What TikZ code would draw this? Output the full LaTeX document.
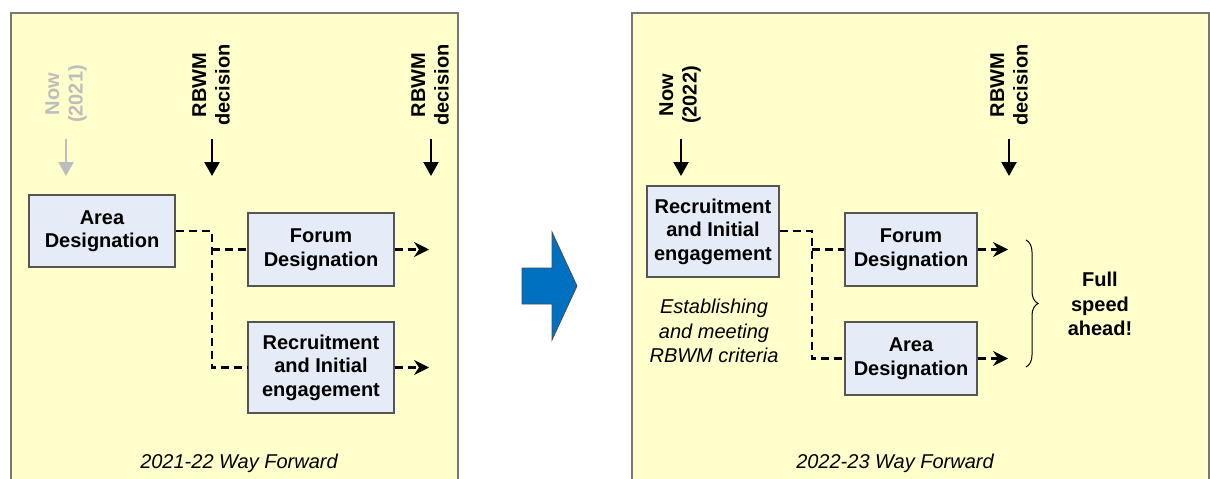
\documentclass[tikz,border=0pt]{standalone}
\usepackage{fontspec}
\setmainfont{Liberation Sans}
\usetikzlibrary{arrows.meta,decorations.pathreplacing}
\definecolor{panelfill}{HTML}{FFFFCC}
\definecolor{boxfill}{HTML}{E6ECF7}
\definecolor{boxedge}{HTML}{555555}
\definecolor{bigblue}{HTML}{0070C0}
\definecolor{nowgray}{HTML}{BDBDBD}
\begin{document}
\begin{tikzpicture}[x=1pt,y=-1pt,
  stagebox/.style={draw=boxedge,line width=1.3pt,fill=boxfill,inner sep=0pt,align=center,
    font=\fontsize{20}{23.5}\selectfont\bfseries},
  vlabel/.style={rotate=90,align=center,font=\fontsize{20}{23.5}\selectfont\bfseries,inner sep=0pt},
  downarrow/.style={line width=2.4pt,-{Triangle[length=14pt,width=15pt]}},
  dashlink/.style={line width=2.2pt,dash pattern=on 8pt off 5pt},
  outlink/.style={line width=2.2pt,dash pattern=on 8pt off 5pt,-{Stealth[length=15pt,width=15pt,inset=5pt]}},
  caption/.style={font=\fontsize{20}{23.5}\selectfont\itshape}]
\useasboundingbox (0,0) rectangle (1210,479);
% panels
\fill[panelfill] (11,13) rectangle (458,481);
\draw[boxedge!80,line width=1.5pt] (11,481) -- (11,13) -- (458,13) -- (458,481);
\fill[panelfill] (632,13) rectangle (1209,481);
\draw[boxedge!80,line width=1.5pt] (632,481) -- (632,13) -- (1209,13) -- (1209,481);

% ---------------- left panel ----------------
\node[vlabel,text=nowgray] (nowA) at (66,94) {Now\\(2021)};
\coordinate (nowAs) at (66,139);
\coordinate (nowAe) at (66,176);
\draw[downarrow,draw=nowgray,fill=nowgray] (nowAs) -- (nowAe);
\node[vlabel] (decA1) at (211,85) {RBWM\\decision};
\coordinate (decA1s) at (212,139);
\coordinate (decA1e) at (212,176);
\draw[downarrow] (decA1s) -- (decA1e);
\node[vlabel] (decA2) at (430,85) {RBWM\\decision};
\coordinate (decA2s) at (431,139);
\coordinate (decA2e) at (431,176);
\draw[downarrow] (decA2s) -- (decA2e);

\node[stagebox,minimum width=146pt,minimum height=72pt] (areaA) at (102,231) {Area\\Designation};
\node[stagebox,minimum width=146pt,minimum height=73pt] (forumA) at (321,249.5) {Forum\\Designation};
\node[stagebox,minimum width=146pt,minimum height=91pt] (recA) at (321,367.5) {Recruitment\\and Initial\\engagement};

\coordinate (jA) at (212,231);
\draw[dashlink] (areaA.east) -- (jA) |- (recA.west);
\draw[dashlink] (jA |- forumA.west) -- (forumA.west);
\coordinate (oA1) at (429,249.5);
\coordinate (oA2) at (429,367.5);
\draw[outlink] (forumA.east) -- (oA1);
\draw[outlink] (recA.east) -- (oA2);

\node[caption] (capA) at (239,463) {2021-22 Way Forward};

% ---------------- transition arrow ----------------
\filldraw[fill=bigblue,draw=black!70,line width=0.8pt]
  (522,268) -- (552,268) -- (552,232) -- (577,286) -- (552,340) -- (552,304) -- (522,304) -- cycle;

% ---------------- right panel ----------------
\node[vlabel] (nowB) at (680,95) {Now\\(2022)};
\coordinate (nowBs) at (681,139);
\coordinate (nowBe) at (681,176);
\draw[downarrow] (nowBs) -- (nowBe);
\node[vlabel] (decB) at (1009,85) {RBWM\\decision};
\coordinate (decBs) at (1009,139);
\coordinate (decBe) at (1009,176);
\draw[downarrow] (decBs) -- (decBe);

\node[stagebox,minimum width=132pt,minimum height=91pt] (recB) at (713,231.5) {Recruitment\\and Initial\\engagement};
\node[align=center,font=\fontsize{20}{24.5}\selectfont\itshape,inner sep=0pt] (critB) at (714,331)
  {Establishing\\and meeting\\RBWM criteria};
\node[stagebox,minimum width=132pt,minimum height=73pt] (forumB) at (911,249.5) {Forum\\Designation};
\node[stagebox,minimum width=132pt,minimum height=73pt] (areaB) at (911,358.5) {Area\\Designation};

\coordinate (jB) at (812,231);
\draw[dashlink] (recB.east |- jB) -- (jB) |- (areaB.west);
\draw[dashlink] (jB |- forumB.west) -- (forumB.west);
\coordinate (oB1) at (1008,249.5);
\coordinate (oB2) at (1008,358.5);
\draw[outlink] (forumB.east) -- (oB1);
\draw[outlink] (areaB.east) -- (oB2);

\coordinate (brT) at (1026,240);
\coordinate (brB) at (1026,367);
\draw[line width=1pt,decorate,decoration={brace,amplitude=12pt,aspect=0.5}] (brT) -- (brB);
\node[align=center,font=\fontsize{20}{24.5}\selectfont\bfseries,inner sep=0pt] (fullB) at (1100,304)
  {Full\\speed\\ahead!};

\node[caption] (capB) at (895,463) {2022-23 Way Forward};
\end{tikzpicture}
\end{document}
